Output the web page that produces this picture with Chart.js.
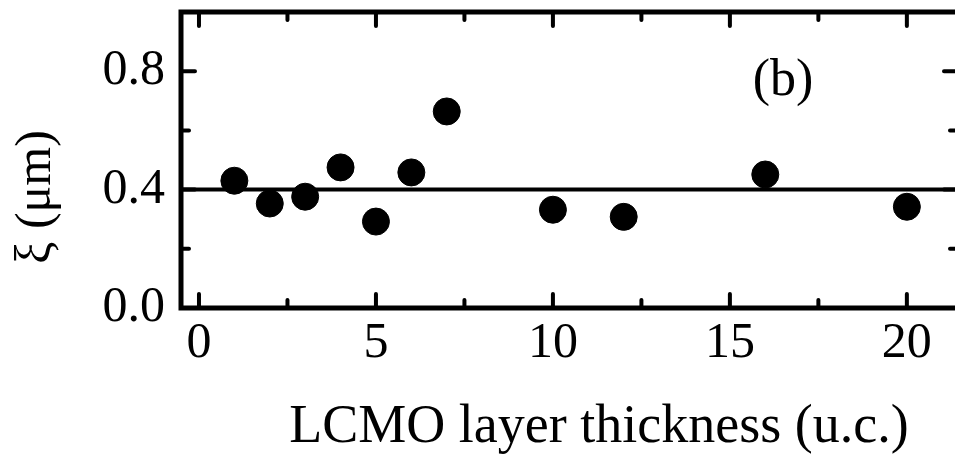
<!DOCTYPE html>
<html>
<head>
<meta charset="utf-8">
<script src="https://cdn.jsdelivr.net/npm/chart.js@4"></script>
<style>
  html, body { margin: 0; padding: 0; background: #fff; overflow: hidden; }
  #wrap { width: 955px; height: 458px; }
</style>
</head>
<body>
<div id="wrap"><canvas id="grafico"></canvas></div>
<script>
const thickness = [1, 2, 3, 4, 5, 6, 7, 10, 12, 16, 20];
const xi = [0.43, 0.353, 0.376, 0.475, 0.292, 0.458, 0.664, 0.332, 0.308, 0.451, 0.342];
const fitX = [-1, 22];
const fitY = [0.4, 0.4];
const xTicks = [0, 5, 10, 15, 20];
const yTicks = [0, 0.4, 0.8];
const xMinor = [2.5, 7.5, 12.5, 17.5];
const yMinor = [0.2, 0.6];

const serif = '"Liberation Serif", "DejaVu Serif", serif';

// frame with inward ticks on all four sides, panel label and axis titles
const frame = {
  id: 'frame',
  afterDraw(chart) {
    const c = chart.ctx, a = chart.chartArea;
    const x = chart.scales.x, y = chart.scales.y;
    const right = a.right + 3;
    c.save();
    c.strokeStyle = '#000';
    c.lineCap = 'round';
    c.lineWidth = 5;
    c.beginPath();
    c.moveTo(right, a.top); c.lineTo(a.left, a.top);
    c.lineTo(a.left, a.bottom); c.lineTo(right, a.bottom);
    c.stroke();
    c.lineWidth = 4;
    const tick = (v, len, horiz) => {
      c.beginPath();
      if (horiz) {
        const p = x.getPixelForValue(v);
        c.moveTo(p, a.top); c.lineTo(p, a.top + len);
        c.moveTo(p, a.bottom); c.lineTo(p, a.bottom - len);
      } else {
        const p = y.getPixelForValue(v);
        c.moveTo(a.left, p); c.lineTo(a.left + len, p);
        c.moveTo(right, p); c.lineTo(right - len, p);
      }
      c.stroke();
    };
    xTicks.forEach(v => tick(v, 14, true));
    xMinor.forEach(v => tick(v, 8, true));
    yTicks.forEach(v => tick(v, 14, false));
    yMinor.forEach(v => tick(v, 8, false));

    c.fillStyle = '#000';
    c.textAlign = 'center';
    c.textBaseline = 'middle';
    c.font = '52px ' + serif;
    c.fillText('(b)', x.getPixelForValue(16.5), y.getPixelForValue(0.765));

    c.textBaseline = 'alphabetic';
    c.font = '54px ' + serif;
    c.fillText('LCMO layer thickness (u.c.)', 599, 442);

    c.translate(37, 197);
    c.rotate(-Math.PI / 2);
    c.textBaseline = 'middle';
    c.font = '50px ' + serif;
    c.fillText('ξ (μm)', 0, 0);
    c.restore();
  }
};

const data = {
  datasets: [{
    type: 'line',
    data: fitX.map((v, i) => ({x: v, y: fitY[i]})),
    borderColor: '#000',
    borderWidth: 4,
    pointRadius: 0,
    fill: false
  }, {
    type: 'scatter',
    data: thickness.map((v, i) => ({x: v, y: xi[i]})),
    backgroundColor: '#000',
    borderColor: '#000',
    pointRadius: 13.5,
    pointHoverRadius: 13.5
  }]
};

new Chart(document.getElementById('grafico'), {
  type: 'scatter',
  data,
  options: {
    responsive: true,
    maintainAspectRatio: false,
    animation: false,
    events: [],
    layout: { autoPadding: false, padding: { top: 12, right: 0, left: 0, bottom: 0 } },
    plugins: { legend: { display: false }, tooltip: { enabled: false } },
    scales: {
      x: {
        type: 'linear',
        min: -0.508,
        max: 21.36,
        border: { display: false },
        grid: { display: false, drawTicks: false },
        afterBuildTicks: s => { s.ticks = xTicks.map(v => ({value: v})); },
        afterFit: s => { s.height = 150; s.paddingLeft = 0; s.paddingRight = 0; },
        ticks: { color: '#000', padding: 6, font: { family: serif, size: 50 }, maxRotation: 0 }
      },
      y: {
        type: 'linear',
        min: 0,
        max: 1,
        border: { display: false },
        grid: { display: false, drawTicks: false },
        afterBuildTicks: s => { s.ticks = yTicks.map(v => ({value: v})); },
        afterFit: s => { s.width = 181; s.paddingTop = 0; s.paddingBottom = 0; },
        ticks: { color: '#000', padding: 16, font: { family: serif, size: 50 }, callback: v => v.toFixed(1) }
      }
    }
  },
  plugins: [frame]
});
</script>
</body>
</html>
